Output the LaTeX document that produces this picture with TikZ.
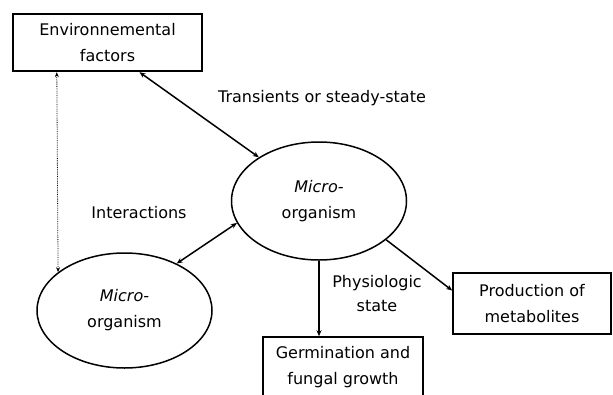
\documentclass[tikz,border=0pt]{standalone}
\usepackage{fontspec}
\setmainfont{DejaVu Sans}
\usetikzlibrary{arrows.meta,shapes.geometric,calc}
\tikzset{
  txt/.style={font=\fontsize{16pt}{26pt}\selectfont, align=center, inner sep=0pt},
  boxnode/.style={draw, line width=1.6pt, rectangle, inner sep=0pt},
  ellnode/.style={draw, line width=1.5pt, ellipse, inner sep=0pt},
  link/.style={line width=1.5pt, {Stealth[length=6pt,width=5pt]}-{Stealth[length=6pt,width=5pt]}},
  onelink/.style={line width=1.5pt, -{Stealth[length=6pt,width=5pt]}},
  dotlink/.style={line width=0.8pt, densely dotted, {Stealth[length=5pt,width=4pt]}-{Stealth[length=5pt,width=4pt]}}
}
\begin{document}
\begin{tikzpicture}[x=1pt,y=-1pt]
\useasboundingbox (0,0) rectangle (613,394);
\node[boxnode, line width=2.4pt, minimum width=189pt, minimum height=57pt, txt] (env) at (107.5,42.5) {Environnemental\\factors};
\node[ellnode, minimum width=175pt, minimum height=118pt, txt] (up) at (319,201) {\textit{Micro-}\\organism};
\node[ellnode, minimum width=175pt, minimum height=115pt, txt] (low) at (124.5,310.5) {\textit{Micro-}\\organism};
\node[boxnode, minimum width=160pt, minimum height=60pt, txt] (germ) at (343,367) {Germination and\\fungal growth};
\node[boxnode, minimum width=158pt, minimum height=61pt, txt] (prod) at (532,303.5) {Production of\\metabolites};
\node[txt] (trans) at (322,98) {Transients or steady-state};
\node[txt] (inter) at (139,213) {Interactions};
\node[txt, font=\fontsize{16pt}{24pt}\selectfont] (phys) at (377,294) {Physiologic\\state};
\draw[dotlink] ($(env.south west)+(45,0)$) -- (low.150);
\draw[link] ($(env.south)+(32,0)$) -- (up.144);
\draw[link] (low.42) -- (up.195);
\draw[onelink] (up.330) -- ($(prod.west)+(0,-13)$);
\draw[onelink] (up.south) -- (up.south |- germ.north);
\end{tikzpicture}
\end{document}
